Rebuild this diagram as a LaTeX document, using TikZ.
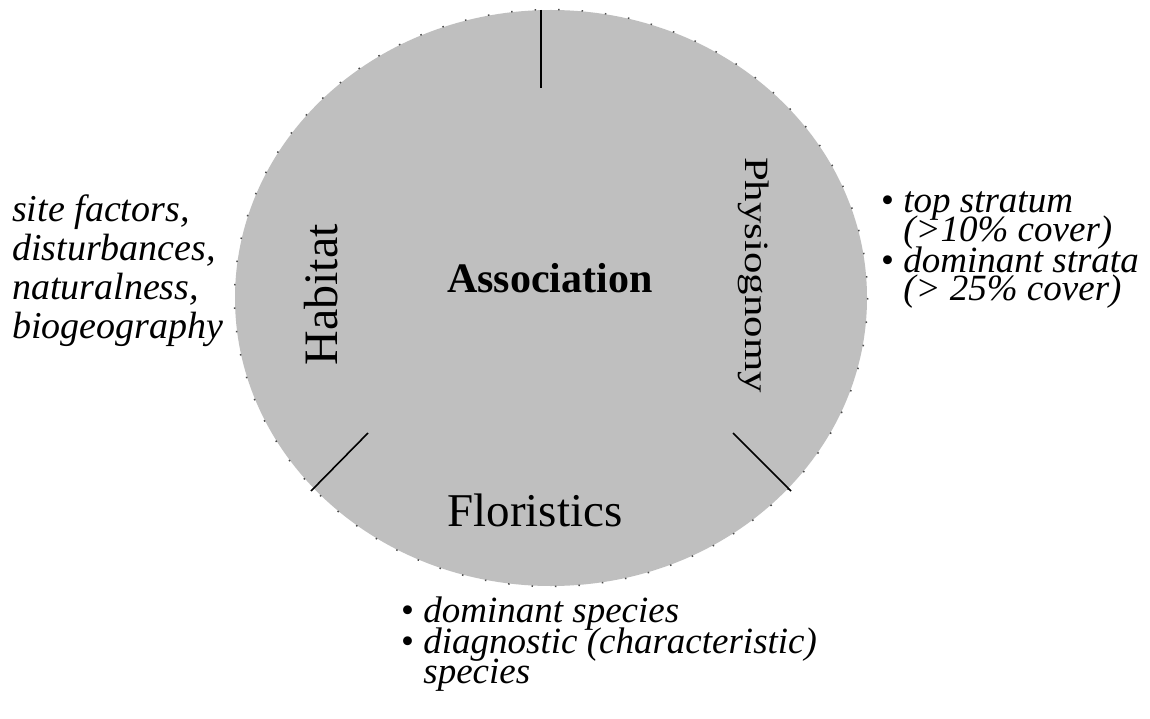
\documentclass[tikz,border=0pt]{standalone}
\usepackage{fontspec}
\setmainfont{Liberation Serif}
\begin{document}
\begin{tikzpicture}[x=1pt,y=-1pt,
  sidetext/.style={anchor=base west,inner sep=0pt,font=\fontsize{38}{40}\selectfont\itshape},
  listtext/.style={anchor=base west,inner sep=0pt,font=\fontsize{37}{39}\selectfont\itshape},
  sector/.style={anchor=base,inner sep=0pt,font=\fontsize{48}{50}\selectfont},
  divider/.style={draw=black,line width=1.6pt},
  rim/.style={draw=black!70,line width=1.5pt,dash pattern=on 1.5pt off 22pt}]
\path[use as bounding box,fill=white] (0,0) rectangle (1150,719);
% main disc
\fill[black!25] (551,298) ellipse (316 and 288);
\draw[rim] (551,298) ellipse (316.5 and 288.5);
% dividers
\coordinate (t1) at (541,10);
\coordinate (t2) at (541,88);
\coordinate (l1) at (368,433);
\coordinate (l2) at (311,491);
\coordinate (r1) at (733,433);
\coordinate (r2) at (791,491);
\draw[divider] (t1) -- (t2);
\draw[divider] (l1) -- (l2);
\draw[divider] (r1) -- (r2);
% labels in disc
\node[anchor=base,inner sep=0pt,font=\fontsize{42}{44}\selectfont\bfseries] (assoc) at (550,292) {Association};
\node[sector,rotate=90] (habitat) at (337,295) {Habitat};
\node[sector,rotate=-90,font=\fontsize{34}{36}\selectfont] (physio) at (745,275) {\scalebox{1.26}[1]{Physiognomy}};
\node[sector,font=\fontsize{47}{49}\selectfont] (flor) at (535,526) {Floristics};
% left text
\node[sidetext] (h1) at (12,222) {site factors,};
\node[sidetext] (h2) at (12,261) {disturbances,};
\node[sidetext] (h3) at (12,299) {naturalness,};
\node[sidetext] (h4) at (12,338) {biogeography};
% right text
\node[listtext] (p1) at (881,213) {\upshape\textbullet\ \itshape top stratum};
\node[listtext] (p2) at (881,242) {\hphantom{\upshape\textbullet\ }(>10\% cover)};
\node[listtext] (p3) at (881,272) {\upshape\textbullet\ \itshape dominant strata};
\node[listtext] (p4) at (881,300) {\hphantom{\upshape\textbullet\ }(> 25\% cover)};
% bottom text
\node[listtext] (f1) at (401,622) {\upshape\textbullet\ \itshape dominant species};
\node[listtext] (f2) at (401,653) {\upshape\textbullet\ \itshape diagnostic (characteristic)};
\node[listtext] (f3) at (401,683) {\hphantom{\upshape\textbullet\ }species};
\end{tikzpicture}
\end{document}
